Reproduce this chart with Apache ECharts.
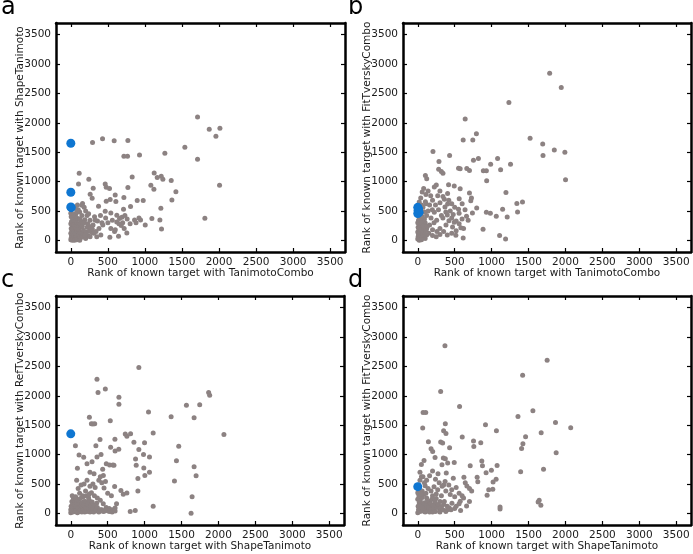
<!DOCTYPE html>
<html><head><meta charset="utf-8">
<script src="https://cdn.jsdelivr.net/npm/echarts@6/dist/echarts.min.js"></script>
<style>html,body{margin:0;padding:0;background:#fff}#c{width:693px;height:554px}</style>
</head><body><div id="c"></div>
<script>
const tickValues = [0,500,1000,1500,2000,2500,3000,3500];
const panelLetters = ['a','b','c','d'];
const xNames = ['Rank of known target with TanimotoCombo','Rank of known target with TanimotoCombo','Rank of known target with ShapeTanimoto','Rank of known target with ShapeTanimoto'];
const yNames = ['Rank of known target with ShapeTanimoto','Rank of known target with FitTverskyCombo','Rank of known target with RefTverskyCombo','Rank of known target with FitTverskyCombo'];

const grayA = [[1710,2100],[1868,1891],[2012,1908],[1958,1772],[428,1727],[293,1664],[585,1693],[770,1698],[1539,1585],[1269,1482],[716,1431],[765,1431],[927,1454],[1710,1380],[2007,937],[1809,375],[113,1142],[243,1039],[104,960],[1125,1147],[1166,1068],[1220,1091],[1242,1039],[1355,1017],[1080,937],[1121,869],[828,1079],[1215,545],[1418,824],[1364,687],[896,676],[770,897],[716,727],[464,960],[478,903],[522,880],[599,772],[608,659],[531,693],[478,665],[302,886],[261,784],[288,716],[158,625],[149,596],[432,261],[374,580],[464,494],[540,466],[621,426],[657,369],[689,392],[711,528],[806,574],[860,346],[941,346],[1004,261],[977,676],[1094,369],[1202,346],[1224,193],[590,148],[644,68],[756,125],[527,51],[405,91],
[700,300],[680,250],[620,310],[560,340],[500,300],[540,200],[600,180],[650,280],[730,420],[760,360],[720,200],[800,280],[880,300],[920,380],[470,380],[420,300],[380,200],[340,150],[300,260],[260,340],[220,420],[200,500],[180,560],[240,450],[320,400],[360,330],[400,420],[280,130],[230,80],[190,350],[150,420],[120,480],[100,520],[90,600],[60,560],[80,500],[70,450],
[0,10],[5,40],[10,80],[0,120],[15,160],[5,200],[20,240],[0,280],[10,320],[25,360],[5,400],[15,440],[30,20],[40,60],[35,110],[45,150],[30,190],[50,230],[40,270],[55,310],[35,350],[45,390],[60,30],[70,70],[65,120],[80,160],[75,210],[90,250],[85,290],[70,330],[95,370],[60,410],[100,20],[110,90],[120,140],[105,190],[130,230],[115,280],[140,320],[125,360],[150,50],[160,110],[170,170],[155,240],[180,300],[200,30],[210,140],[220,220],[230,280],[190,90],[250,160],[260,60],[270,230],[290,190],[310,120],[330,340],[350,60],[20,0],[50,0],[80,10],[120,0],[8,470],[25,430],[0,460]];
const blueA = [[0,1653],[0,818],[0,568],[5,555]];

const grayB = [[1786,2844],[1943,2601],[1234,2346],[642,2064],[794,1815],[615,1707],[745,1707],[1521,1736],[1692,1640],[1849,1538],[1992,1498],[1696,1442],[2001,1029],[206,1510],[431,1442],[287,1340],[283,1210],[319,1170],[341,1142],[552,1227],[574,1216],[664,1221],[700,1187],[754,1363],[821,1391],[987,1295],[1081,1391],[1256,1295],[1122,1199],[888,1182],[929,1182],[933,1012],[103,1103],[121,1046],[224,905],[417,944],[494,922],[404,797],[561,707],[552,526],[601,622],[727,718],[718,673],[740,464],[798,548],[700,803],[574,876],[341,746],[301,639],[404,616],[368,565],[197,520],[103,656],[175,758],[251,939],[1194,814],[1418,650],[1342,628],[1351,481],[1149,526],[1211,396],[1063,407],[983,458],[929,475],[1108,79],[1189,23],[884,187],[615,40],[516,85],[583,215],[422,334],[382,260],[256,339],[224,475],[660,407],[682,339],[494,305],[471,226],
[80,880],[60,820],[140,840],[110,780],[300,840],[270,760],[360,700],[420,680],[460,620],[500,560],[440,500],[380,480],[320,420],[280,520],[240,600],[200,680],[160,600],[140,500],[120,420],[180,380],[220,300],[160,260],[120,200],[200,180],[260,150],[300,200],[340,380],[400,430],[460,380],[520,330],[560,280],[600,360],[640,520],[480,440],[560,460],[620,200],[520,160],[460,120],[400,90],[350,150],[300,100],[250,60],[200,80],[150,120],[100,300],[90,360],[70,250],
[0,20],[5,60],[10,100],[0,140],[15,180],[5,220],[20,260],[0,300],[10,340],[25,380],[5,420],[30,40],[40,90],[35,130],[45,170],[30,210],[50,250],[40,290],[55,330],[35,370],[60,50],[70,110],[65,160],[80,200],[75,240],[90,140],[85,60],[100,30],[110,170],[120,90],[130,240],[20,0],[50,10],[15,460],[40,420],[60,400],[45,460],[25,500],[50,600],[20,650],[40,720],[70,560],[90,480],[110,620]];
const blueB = [[0,560],[10,535],[5,505],[18,475],[0,455],[8,520]];

const grayC = [[922,2484],[355,2284],[468,2118],[369,2056],[652,1976],[652,1856],[1867,2056],[1881,2010],[1746,1850],[1566,1839],[1359,1644],[1670,1627],[1053,1725],[252,1633],[279,1525],[324,1525],[535,1576],[2074,1342],[1116,1365],[738,1348],[760,1313],[810,1353],[598,1262],[396,1256],[855,1211],[999,1199],[1462,1142],[922,1085],[985,999],[1066,959],[877,925],[886,817],[989,771],[1003,645],[909,594],[1066,697],[909,377],[1431,896],[1404,548],[1670,794],[1697,640],[1643,280],[1629,0],[1116,120],[63,1148],[112,994],[175,953],[90,765],[220,845],[540,1125],[355,959],[288,879],[481,845],[526,822],[585,817],[432,748],[315,674],[441,645],[711,325],[760,343],[594,457],[679,388],[805,29],[873,46],
[650,1090],[600,1060],[570,820],[410,1000],[340,1150],[300,1520],[260,700],[400,620],[470,540],[420,520],[380,560],[330,440],[300,500],[260,460],[220,560],[180,500],[140,480],[100,420],[80,560],[120,340],[160,300],[200,380],[240,270],[280,350],[320,300],[360,260],[400,220],[440,160],[480,100],[520,80],[560,60],[600,90],[620,160],[500,340],[550,300],[450,430],[350,170],[300,120],[260,180],[220,100],[180,200],[140,130],[100,60],[420,60],[460,40],[360,40],
[0,10],[10,40],[20,80],[30,20],[40,60],[50,100],[60,30],[70,120],[80,50],[90,10],[100,90],[110,150],[120,30],[130,70],[140,180],[150,20],[160,110],[170,60],[180,140],[190,20],[200,200],[210,90],[220,30],[230,150],[240,60],[250,220],[260,20],[270,110],[280,40],[290,190],[300,70],[310,20],[320,130],[340,60],[360,100],[380,20],[400,60],[440,30],[480,50],[520,30],[560,20],[600,40],[0,60],[5,120],[15,200],[25,160],[45,220],[35,260],[60,200],[75,240],[20,300],[55,150],[85,170],[95,230],[65,280],[130,250],[170,280],[210,300],[250,330]];
const blueC = [[0,1353]];

const grayD = [[368,2854],[1752,2605],[1420,2350],[310,2073],[566,1818],[72,1716],[108,1716],[1559,1744],[1357,1648],[1865,1546],[2071,1455],[1671,1370],[1460,1302],[1424,1184],[1406,1104],[1874,1031],[1393,708],[1703,748],[1644,221],[1667,136],[1630,190],[1114,108],[1114,74],[373,1523],[67,1450],[917,1506],[1065,1404],[602,1297],[350,1404],[382,1359],[144,1218],[310,1212],[337,1195],[431,1116],[755,1229],[759,1138],[853,1201],[180,1099],[202,1053],[85,900],[49,832],[234,951],[346,940],[373,929],[494,866],[1074,815],[710,810],[867,889],[876,810],[997,731],[925,691],[1061,578],[1020,532],[1016,408],[813,538],[804,612],[961,402],[939,306],[625,612],[643,521],[665,464],[481,595],[386,685],[274,674],[328,827],[405,855],[575,204],[580,45],[661,125],[463,170],[427,91],
[30,700],[70,620],[120,560],[160,640],[200,720],[240,580],[290,520],[330,460],[370,540],[420,480],[460,400],[520,440],[560,340],[600,300],[500,280],[440,320],[380,380],[320,300],[270,400],[220,450],[180,380],[140,420],[100,470],[60,380],[200,300],[250,250],[300,200],[350,150],[400,120],[450,60],[520,120],[560,160],[620,260],[700,420],[730,380],[240,160],[200,120],[160,200],[120,260],[80,320],[700,200],[500,80],[300,60],[250,330],[350,480],
[0,10],[10,60],[5,120],[20,180],[0,240],[15,300],[30,30],[40,90],[50,150],[35,210],[60,270],[70,40],[80,110],[90,180],[100,20],[110,80],[120,140],[130,200],[140,40],[150,100],[160,20],[170,160],[180,60],[190,240],[200,20],[210,140],[220,80],[230,200],[240,30],[260,100],[280,150],[300,20],[320,110],[340,60],[360,200],[380,30],[400,60],[0,350],[20,400],[40,330],[10,480],[30,560],[50,620],[90,520],[110,340],[60,90]];
const blueD = [[0,453]];

const grayData = [grayA, grayB, grayC, grayD];
const blueData = [blueA, blueB, blueC, blueD];

const grids = [
  {left:56, top:23, width:289, height:229},
  {left:403, top:23, width:288, height:229},
  {left:56, top:296, width:288, height:229},
  {left:403, top:296, width:288, height:229}
];
const letterPos = [[1,-4],[348,-4],[1,269],[348,269]];

const FONT = 'DejaVu Sans';
const TXT = '#1a1a1a';
const AXMIN = -200, AXMAX = 3700;
const lineStyle = {color:'#000', width:2.5};
const fmt = v => String(v);

const xAxis = [], yAxis = [], series = [], graphic = [];
grids.forEach((g, i) => {
  xAxis.push({
    gridIndex:i, type:'value', min:AXMIN, max:AXMAX, position:'bottom',
    name:xNames[i], nameLocation:'middle', nameGap:16, nameMoveOverlap:false,
    nameTextStyle:{fontFamily:FONT, fontSize:10.5, color:TXT},
    axisLine:{show:true, onZero:false, lineStyle},
    axisTick:{show:true, inside:true, length:4, customValues:tickValues, lineStyle:{color:'#000', width:1.2}},
    axisLabel:{show:true, customValues:tickValues, formatter:fmt, margin:5, fontFamily:FONT, fontSize:10.5, color:TXT},
    splitLine:{show:false}
  });
  xAxis.push({
    gridIndex:i, type:'value', min:AXMIN, max:AXMAX, position:'top',
    axisLine:{show:true, onZero:false, lineStyle},
    axisTick:{show:true, inside:true, length:4, customValues:tickValues, lineStyle:{color:'#000', width:1.2}},
    axisLabel:{show:false}, splitLine:{show:false}
  });
  yAxis.push({
    gridIndex:i, type:'value', min:AXMIN, max:AXMAX, position:'left',
    name:yNames[i], nameLocation:'middle', nameGap:30, nameMoveOverlap:false,
    nameTextStyle:{fontFamily:FONT, fontSize:10.5, color:TXT},
    axisLine:{show:true, onZero:false, lineStyle},
    axisTick:{show:true, inside:true, length:4, customValues:tickValues, lineStyle:{color:'#000', width:1.2}},
    axisLabel:{show:true, customValues:tickValues, formatter:fmt, margin:5, fontFamily:FONT, fontSize:10.5, color:TXT},
    splitLine:{show:false}
  });
  yAxis.push({
    gridIndex:i, type:'value', min:AXMIN, max:AXMAX, position:'right',
    axisLine:{show:true, onZero:false, lineStyle},
    axisTick:{show:true, inside:true, length:4, customValues:tickValues, lineStyle:{color:'#000', width:1.2}},
    axisLabel:{show:false}, splitLine:{show:false}
  });
  series.push({
    type:'scatter', xAxisIndex:2*i, yAxisIndex:2*i, data:grayData[i],
    symbolSize:5, itemStyle:{color:'#8c8282', opacity:1}, z:2, silent:true
  });
  series.push({
    type:'scatter', xAxisIndex:2*i, yAxisIndex:2*i, data:blueData[i],
    symbolSize:9, itemStyle:{color:'#0f76d1', opacity:1}, z:3, silent:true
  });
  graphic.push({
    type:'text', left:letterPos[i][0], top:letterPos[i][1],
    style:{text:panelLetters[i], font:'24px "DejaVu Sans"', fill:'#000'}
  });
});

const chart = echarts.init(document.getElementById('c'), null, {renderer:'canvas'});
chart.setOption({
  animation:false, backgroundColor:'#fff',
  grid: grids.map(g => Object.assign({containLabel:false}, g)),
  xAxis, yAxis, series, graphic
});
</script>
</body></html>
